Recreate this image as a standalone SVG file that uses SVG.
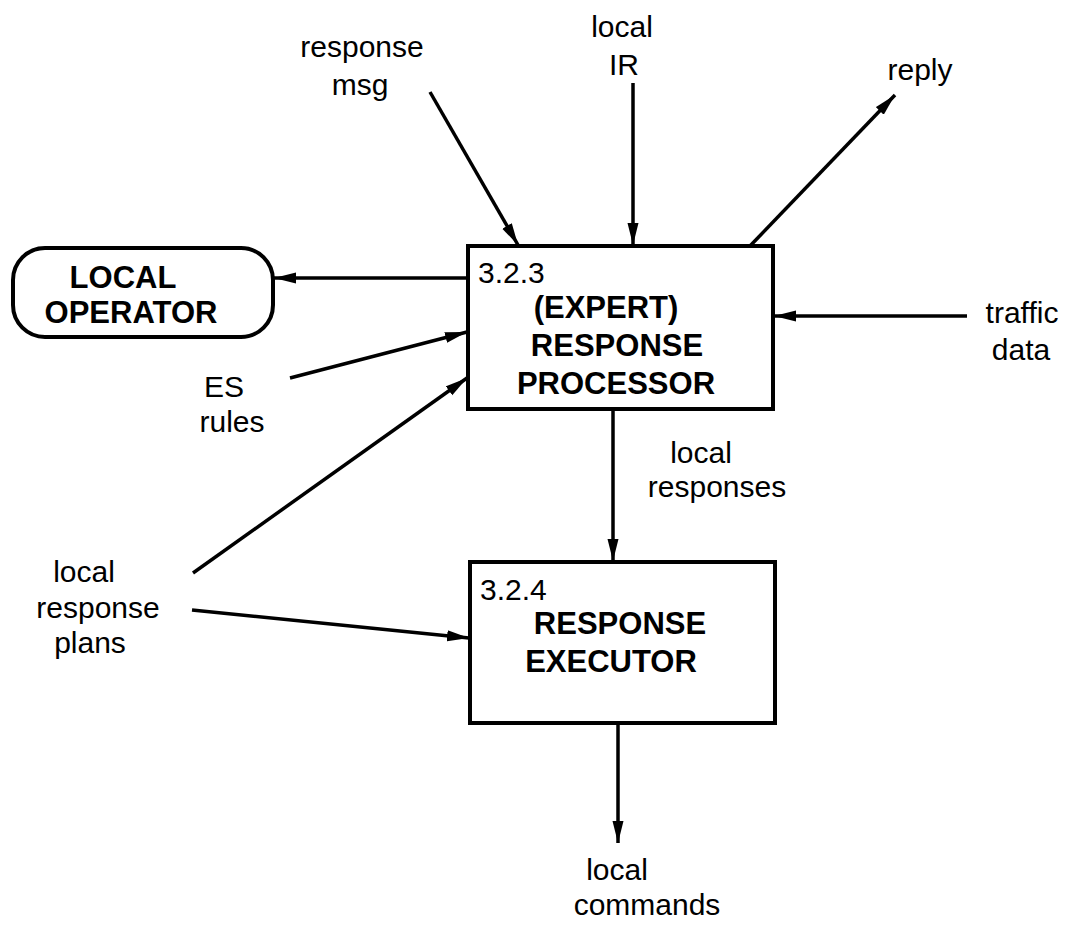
<svg xmlns="http://www.w3.org/2000/svg" width="1069" height="926" viewBox="0 0 1069 926">
  <style>
    .box { fill: #fff; stroke: #000; stroke-width: 4; }
    .flow { stroke: #000; stroke-width: 3.5; fill: none; marker-end: url(#arrow); }
    .lbl { font-family: "Liberation Sans", Arial, Helvetica, sans-serif; font-size: 30px; fill: #000; text-anchor: middle; }
    .num { font-family: "Liberation Sans", Arial, Helvetica, sans-serif; font-size: 30px; fill: #000; }
    .ttl { font-family: "Liberation Sans", Arial, Helvetica, sans-serif; font-size: 31px; font-weight: bold; fill: #000; text-anchor: middle; }
  </style>
  <defs>
    <marker id="arrow" markerUnits="userSpaceOnUse" markerWidth="24" markerHeight="12" refX="22" refY="6" orient="auto">
      <path d="M0,0.5 L22,6 L0,11.5 Z" fill="#000"/>
    </marker>
  </defs>
  <rect width="1069" height="926" fill="#fff"/>

  <!-- data flows -->
  <g id="connectors">
    <line class="flow" x1="468" y1="278" x2="274" y2="278"/>
    <line class="flow" x1="430" y1="92" x2="518" y2="245"/>
    <line class="flow" x1="633" y1="83" x2="633" y2="245"/>
    <line class="flow" x1="750" y1="246" x2="895" y2="95"/>
    <line class="flow" x1="967" y1="316" x2="774" y2="316"/>
    <line class="flow" x1="290" y1="378" x2="467" y2="332"/>
    <line class="flow" x1="193" y1="573" x2="467" y2="378"/>
    <line class="flow" x1="192" y1="610" x2="469" y2="638"/>
    <line class="flow" x1="613" y1="409" x2="613" y2="561"/>
    <line class="flow" x1="618" y1="723" x2="618" y2="843"/>
  </g>

  <!-- external entity -->
  <g id="local-operator">
    <rect class="box" x="13" y="248" width="260" height="89" rx="32" ry="32"/>
    <text class="ttl" x="123" y="288">LOCAL</text>
    <text class="ttl" x="131" y="323">OPERATOR</text>
  </g>

  <!-- process 3.2.3 -->
  <g id="response-processor">
    <rect class="box" x="468" y="246" width="305" height="163"/>
    <text class="num" x="478" y="283">3.2.3</text>
    <text class="ttl" x="606" y="318">(EXPERT)</text>
    <text class="ttl" x="617" y="356">RESPONSE</text>
    <text class="ttl" x="616" y="394">PROCESSOR</text>
  </g>

  <!-- process 3.2.4 -->
  <g id="response-executor">
    <rect class="box" x="470" y="562" width="305" height="161"/>
    <text class="num" x="480" y="600">3.2.4</text>
    <text class="ttl" x="620" y="634">RESPONSE</text>
    <text class="ttl" x="611" y="672">EXECUTOR</text>
  </g>

  <!-- flow labels -->
  <g id="labels">
    <text class="lbl" x="362" y="57">response</text>
    <text class="lbl" x="360" y="95">msg</text>
    <text class="lbl" x="622" y="37">local</text>
    <text class="lbl" x="624" y="75">IR</text>
    <text class="lbl" x="920" y="80">reply</text>
    <text class="lbl" x="1022" y="323">traffic</text>
    <text class="lbl" x="1021" y="360">data</text>
    <text class="lbl" x="224" y="397">ES</text>
    <text class="lbl" x="232" y="432">rules</text>
    <text class="lbl" x="84" y="582">local</text>
    <text class="lbl" x="98" y="618">response</text>
    <text class="lbl" x="90" y="653">plans</text>
    <text class="lbl" x="701" y="463">local</text>
    <text class="lbl" x="717" y="497">responses</text>
    <text class="lbl" x="617" y="880">local</text>
    <text class="lbl" x="647" y="915">commands</text>
  </g>
</svg>
